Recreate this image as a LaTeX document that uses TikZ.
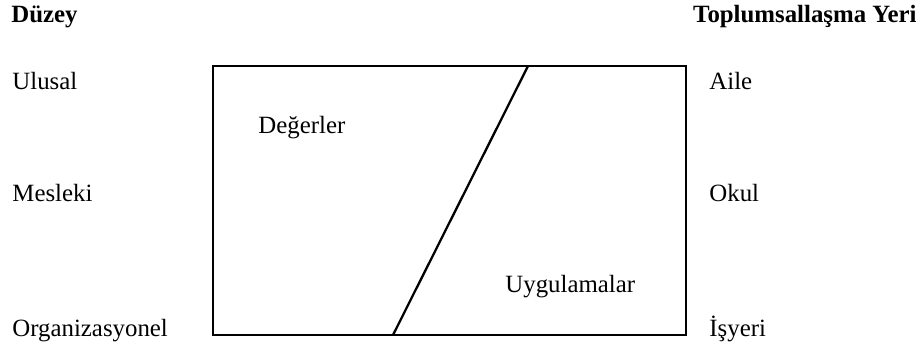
\documentclass[tikz,border=0pt]{standalone}
\usepackage{fontspec}
\setmainfont{Liberation Serif}
\usepackage{tikz}
\usetikzlibrary{positioning,calc}

\tikzset{
  lbl/.style={font=\fontsize{12}{14}\selectfont, inner sep=0pt},
  head/.style={lbl, font=\fontsize{12}{14}\selectfont\bfseries},
  frame/.style={line width=1.1pt}
}

\begin{document}
\begin{tikzpicture}[x=0.483pt, y=-0.483pt]
  \useasboundingbox (0,0) rectangle (922,349);

  % Column headings
  \node[head, anchor=base west] (duzey) at (11, 22) {Düzey};
  \node[head, anchor=base east] (yer) at (917, 22) {Toplumsallaşma Yeri};

  % Levels (left)
  \node[lbl, anchor=base west] (ulusal) at (12, 89) {Ulusal};
  \node[lbl, anchor=base west] (mesleki) at (12, 201) {Mesleki};
  \node[lbl, anchor=base west] (org) at (12, 336) {Organizasyonel};

  % Places (right)
  \node[lbl, anchor=base west] (aile) at (709, 89) {Aile};
  \node[lbl, anchor=base west] (okul) at (709, 201) {Okul};
  \node[lbl, anchor=base west] (isyeri) at (709, 336) {İşyeri};

  % Box with dividing line
  \coordinate (nw) at (213, 66);
  \coordinate (se) at (686, 335);
  \draw[frame] (nw) rectangle (se);
  \coordinate (top) at (528, 66);
  \coordinate (bot) at (393, 335);
  \draw[frame] (top) -- (bot);

  \node[lbl, anchor=base west] (degerler) at (258, 133) {Değerler};
  \node[lbl, anchor=base west] (uyg) at (505, 292) {Uygulamalar};
\end{tikzpicture}
\end{document}
